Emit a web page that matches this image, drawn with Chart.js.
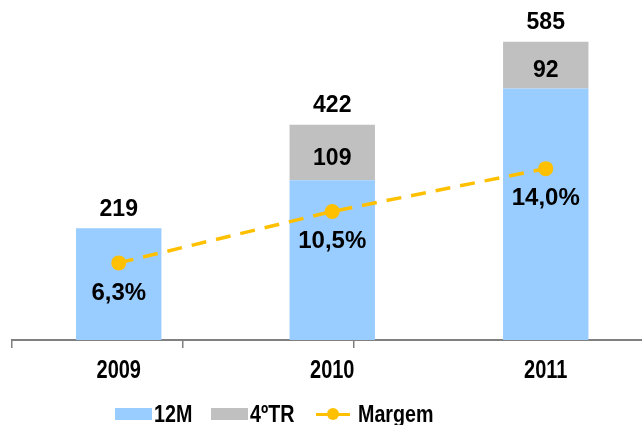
<!DOCTYPE html>
<html><head><meta charset="utf-8">
<script src="https://cdn.jsdelivr.net/npm/chart.js@4.4.1/dist/chart.umd.min.js"></script>
<style>
html,body{margin:0;padding:0;background:#fff;overflow:hidden;width:642px;height:425px;}
#wrap{position:relative;width:660px;height:425px;}
canvas{display:block;}
#legend{position:absolute;left:115px;top:402px;display:flex;align-items:center;font:bold 24px 'Liberation Sans',Arial,sans-serif;color:#000;white-space:nowrap;line-height:24px;}
.item{display:flex;align-items:center;margin-right:19px;}
.box{width:37px;height:12px;margin-right:2px;flex:none;}
.sym{position:relative;width:34px;height:12px;margin-right:8px;margin-left:2px;flex:none;}
.sym .ln{position:absolute;left:0;right:0;top:4.5px;height:3px;}
.sym .dt{position:absolute;left:11px;top:0;width:12px;height:12px;border-radius:50%;}
.tw{display:inline-block;overflow:visible;}
.tw span{display:inline-block;transform:scaleX(0.82);transform-origin:0 50%;}
</style></head>
<body>
<div id="wrap"><canvas id="c" width="660" height="425"></canvas><div id="legend"></div></div>
<script>
const categories = ['2009', '2010', '2011'];
const serie12M = [219, 313, 493];
const serie4TR = [0, 109, 92];
const margem = [6.3, 10.5, 14.0];
const seriesNames = ['12M', '4ºTR', 'Margem'];

const REG = "'Liberation Sans',Arial,sans-serif";
const fmtPct = v => v.toFixed(1).replace('.', ',') + '%';

const labelsPlugin = {
  id: 'valueLabels',
  afterDatasetsDraw(chart) {
    const ctx = chart.ctx;
    const m0 = chart.getDatasetMeta(0), m1 = chart.getDatasetMeta(1), m2 = chart.getDatasetMeta(2);
    ctx.save();
    ctx.fillStyle = '#000';
    ctx.textAlign = 'center';
    ctx.textBaseline = 'middle';
    categories.forEach((c, i) => {
      const total = serie12M[i] + serie4TR[i];
      const topY = chart.scales.y.getPixelForValue(total);
      ctx.font = 'bold 23px ' + REG;
      ctx.fillText(String(total), m0.data[i].x, topY - 19);
      if (serie4TR[i]) {
        const el = m1.data[i];
        ctx.fillText(String(serie4TR[i]), el.x, (el.y + el.base) / 2 + 6);
      }
      const p = m2.data[i];
      ctx.font = 'bold 24px ' + REG;
      ctx.fillText(fmtPct(margem[i]), p.x, p.y + 30);
    });
    ctx.restore();
  },
  afterDraw(chart) {
    // category tick labels drawn condensed (narrow bold face)
    const sx = chart.scales.x;
    const ctx = chart.ctx;
    ctx.save();
    ctx.fillStyle = '#000';
    ctx.textAlign = 'center';
    ctx.textBaseline = 'middle';
    ctx.font = 'bold 25px ' + REG;
    sx.ticks.forEach((t, i) => {
      const x = sx.getPixelForTick(i);
      const y = sx.top + 23;
      ctx.save();
      ctx.translate(x, y);
      ctx.scale(0.8, 1);
      ctx.fillText(sx.getLabelForValue(t.value), 0, 0);
      ctx.restore();
    });
    ctx.restore();
  }
};

const chart = new Chart(document.getElementById('c'), {
  data: {
    labels: categories,
    datasets: [
      { type: 'bar', label: seriesNames[0], data: serie12M, backgroundColor: '#99CCFF', yAxisID: 'y', xAxisID: 'x', order: 2, barPercentage: 0.4, categoryPercentage: 1 },
      { type: 'bar', label: seriesNames[1], data: serie4TR, backgroundColor: '#C0C0C0', yAxisID: 'y', xAxisID: 'x', order: 2, barPercentage: 0.4, categoryPercentage: 1 },
      { type: 'line', label: seriesNames[2], data: margem, borderColor: '#FFC000', backgroundColor: '#FFC000', borderWidth: 3.5, borderDash: [15, 10], pointRadius: 7.5, pointHoverRadius: 7.5, pointBorderWidth: 0, yAxisID: 'y2', xAxisID: 'x', order: 0, fill: false, tension: 0 }
    ]
  },
  options: {
    responsive: false,
    animation: false,
    devicePixelRatio: 1,
    layout: { padding: { left: 12, top: 34, right: 0, bottom: 37 } },
    plugins: { legend: { display: false }, tooltip: { enabled: false } },
    scales: {
      x: { type: 'category', stacked: true, weight: 1, offset: true,
           grid: { display: false }, border: { display: false },
           ticks: { color: 'rgba(0,0,0,0)', padding: 1, font: { family: REG, size: 25, weight: 'bold' } } },
      x2: { type: 'linear', position: 'bottom', weight: 0, min: 0, max: 3.75,
            grid: { drawOnChartArea: false, tickLength: 8, color: '#808080', lineWidth: 1.5 },
            border: { color: '#808080', width: 2 },
            ticks: { display: false, stepSize: 1 },
            afterBuildTicks: s => { s.ticks = s.ticks.filter(t => t.value < categories.length); } },
      y: { stacked: true, display: false, min: 0, max: 600 },
      y2: { display: false, position: 'right', min: 0, max: 25 }
    }
  },
  plugins: [labelsPlugin]
});

// HTML legend built from the chart's datasets
const leg = document.getElementById('legend');
chart.data.datasets.forEach(ds => {
  const it = document.createElement('div');
  it.className = 'item';
  if (ds.type === 'line') {
    it.innerHTML = '<div class="sym"><div class="ln"></div><div class="dt"></div></div>';
    it.querySelector('.ln').style.background = ds.borderColor;
    it.querySelector('.dt').style.background = ds.backgroundColor;
  } else {
    it.innerHTML = '<div class="box"></div>';
    it.querySelector('.box').style.background = ds.backgroundColor;
  }
  const w = document.createElement('div');
  w.className = 'tw';
  const t = document.createElement('span');
  t.textContent = ds.label;
  w.appendChild(t);
  it.appendChild(w);
  leg.appendChild(it);
  w.style.width = (t.getBoundingClientRect().width) + 'px';
});
</script>
</body></html>
